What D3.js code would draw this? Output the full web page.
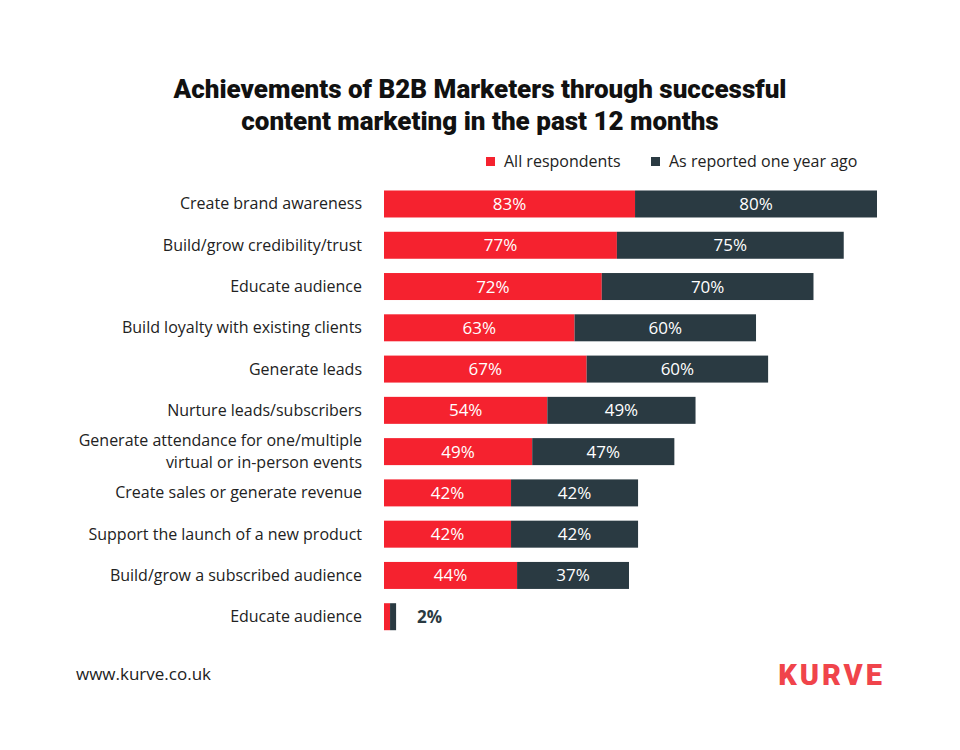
<!DOCTYPE html>
<html>
<head>
<meta charset="utf-8">
<script src="https://cdn.jsdelivr.net/npm/d3@7"></script>
<style>
  html, body { margin: 0; padding: 0; background: #ffffff; }
  svg { display: block; }
</style>
</head>
<body>
<svg id="chart" width="960" height="750"></svg>
<script>
const categories = [
  ["Create brand awareness"],
  ["Build/grow credibility/trust"],
  ["Educate audience"],
  ["Build loyalty with existing clients"],
  ["Generate leads"],
  ["Nurture leads/subscribers"],
  ["Generate attendance for one/multiple", "virtual or in-person events"],
  ["Create sales or generate revenue"],
  ["Support the launch of a new product"],
  ["Build/grow a subscribed audience"],
  ["Educate audience"]
];
const allRespondents = [83, 77, 72, 63, 67, 54, 49, 42, 42, 44, 2];
const yearAgo = [80, 75, 70, 60, 60, 49, 47, 42, 42, 37, 2];
const seriesNames = ["All respondents", "As reported one year ago"];
const titleLines = ["Achievements of B2B Marketers through successful", "content marketing in the past 12 months"];

const RED = "#f5222f";
const DARK = "#2a3a42";
const labelFont = "'Open Sans', 'Noto Sans', sans-serif";

const svg = d3.select("#chart");

// Title
svg.append("text")
  .attr("x", 480).attr("y", 0)
  .attr("text-anchor", "middle")
  .attr("font-family", "Roboto, sans-serif")
  .attr("font-weight", 900)
  .attr("font-size", 26)
  .attr("fill", "#111")
  .selectAll("tspan").data(titleLines).join("tspan")
  .attr("x", 480)
  .attr("y", (d, i) => 98 + i * 32)
  .text(d => d);

const x = d3.scaleLinear().domain([0, 163]).range([384, 877]);
const y = d3.scaleBand()
  .domain(d3.range(categories.length))
  .range([183.35, 637.35])
  .paddingInner(0.346)
  .paddingOuter(0.173);

const rows = categories.map((c, i) => ({ i, label: c, a: allRespondents[i], b: yearAgo[i] }));

// Legend
const legend = svg.append("g").attr("font-family", labelFont).attr("font-size", 16).attr("fill", "#222");
const legendItems = [
  { name: seriesNames[0], color: RED, x: 486 },
  { name: seriesNames[1], color: DARK, x: 651 }
];
legendItems.forEach(it => {
  legend.append("rect").attr("x", it.x).attr("y", 157).attr("width", 9).attr("height", 9).attr("fill", it.color);
  legend.append("text").attr("x", it.x + 18).attr("y", 167).text(it.name);
});

// Category labels
const catG = svg.append("g").attr("font-family", labelFont).attr("font-size", 16).attr("fill", "#222");
rows.forEach(r => {
  const cy = y(r.i) + y.bandwidth() / 2;
  const n = r.label.length;
  const t = catG.append("text").attr("text-anchor", "end");
  r.label.forEach((line, k) => {
    t.append("tspan").attr("x", 362).attr("y", cy + 5.5 + (k - (n - 1) / 2) * 22).text(line);
  });
});

// Bars
const barG = svg.append("g");
rows.forEach(r => {
  const y0 = y(r.i), h = y.bandwidth();
  barG.append("rect").attr("x", x(0)).attr("y", y0).attr("width", x(r.a) - x(0)).attr("height", h).attr("fill", RED);
  barG.append("rect").attr("x", x(r.a)).attr("y", y0).attr("width", x(r.a + r.b) - x(r.a)).attr("height", h).attr("fill", DARK);
  const cy = y0 + h / 2 + 6;
  const wa = x(r.a) - x(0), wb = x(r.a + r.b) - x(r.a);
  if (wa > 30) {
    barG.append("text").attr("x", (x(0) + x(r.a)) / 2).attr("y", cy).attr("text-anchor", "middle")
      .attr("font-family", labelFont).attr("font-size", 17).attr("fill", "#fff").text(r.a + "%");
  }
  if (wb > 30) {
    barG.append("text").attr("x", (x(r.a) + x(r.a + r.b)) / 2).attr("y", cy).attr("text-anchor", "middle")
      .attr("font-family", labelFont).attr("font-size", 17).attr("fill", "#fff").text(r.b + "%");
  } else {
    barG.append("text").attr("x", x(r.a + r.b) + 21).attr("y", cy).attr("text-anchor", "start")
      .attr("font-family", labelFont).attr("font-size", 17).attr("font-weight", 700).attr("fill", DARK).text(r.b + "%");
  }
});

// Footer
svg.append("text").attr("x", 76).attr("y", 680)
  .attr("font-family", labelFont).attr("font-size", 17).attr("fill", "#222").text("www.kurve.co.uk");
svg.append("text").attr("x", 885).attr("y", 685).attr("text-anchor", "end")
  .attr("font-family", "Roboto, sans-serif").attr("font-weight", 900).attr("font-size", 29)
  .attr("fill", "#f0444b").attr("letter-spacing", 3).text("KURVE");
</script>
</body>
</html>
